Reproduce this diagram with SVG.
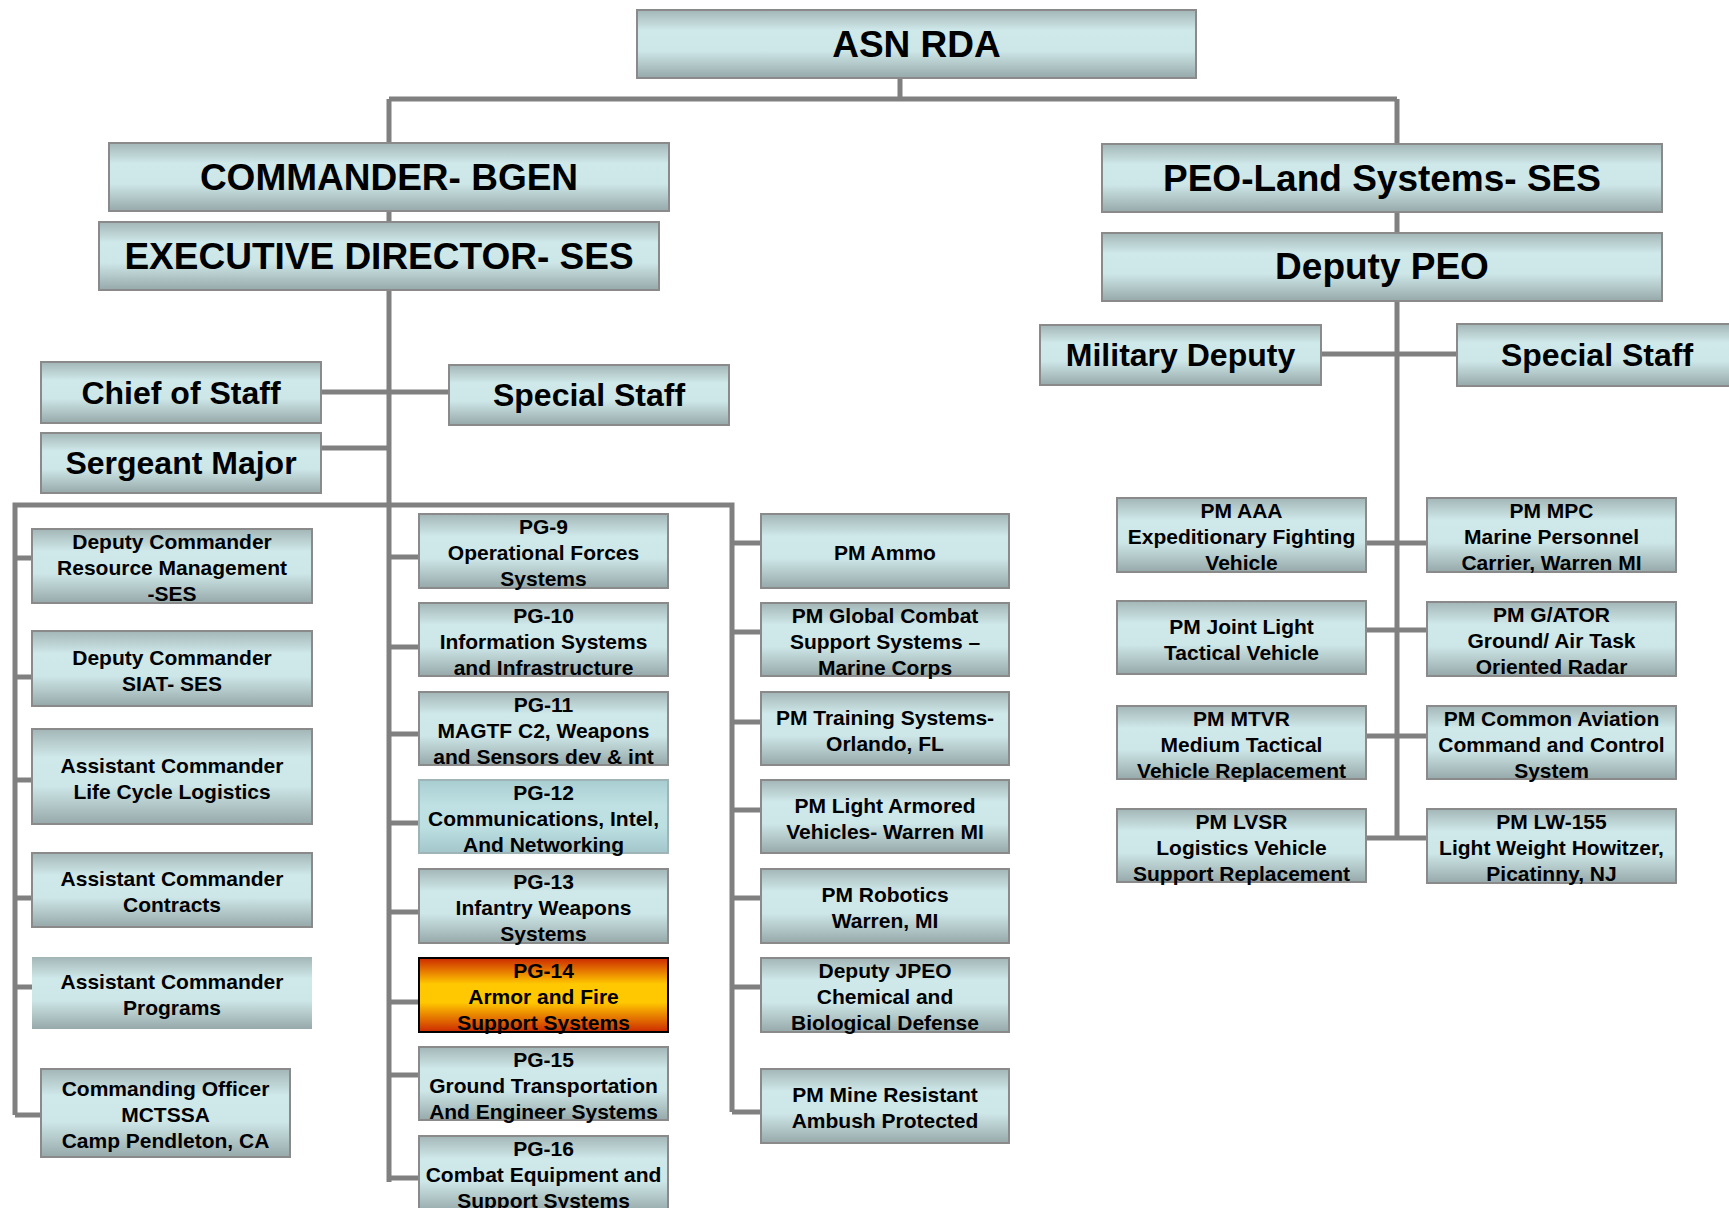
<svg xmlns="http://www.w3.org/2000/svg" width="1729" height="1208" viewBox="0 0 1729 1208">
<defs>
<linearGradient id="gBox" x1="0" y1="0" x2="0" y2="1">
<stop offset="0" stop-color="#a3b6b7"/>
<stop offset="0.3" stop-color="#cfe8e9"/>
<stop offset="0.6" stop-color="#cde6e7"/>
<stop offset="1" stop-color="#97a9aa"/>
</linearGradient>
<linearGradient id="gTeal" x1="0" y1="0" x2="0" y2="1">
<stop offset="0" stop-color="#a8cdd0"/>
<stop offset="0.35" stop-color="#bfe1e4"/>
<stop offset="0.65" stop-color="#bcdfe2"/>
<stop offset="1" stop-color="#a2c6ca"/>
</linearGradient>
<linearGradient id="gFire" x1="0" y1="0" x2="0" y2="1">
<stop offset="0" stop-color="#cc2a00"/>
<stop offset="0.35" stop-color="#ffc800"/>
<stop offset="0.6" stop-color="#ffc800"/>
<stop offset="1" stop-color="#cc2a00"/>
</linearGradient>
</defs>
<style>
.box{fill:url(#gBox);stroke:#8a8a8a;stroke-width:2}
.teal{fill:url(#gTeal);stroke:#9fb4b6;stroke-width:2}
.fire{fill:url(#gFire);stroke:#000;stroke-width:2}
.nob{fill:url(#gBox);stroke:none}
.con{fill:none;stroke:#808080;stroke-width:5;stroke-linecap:butt}
text{font-family:"Liberation Sans",Arial,sans-serif;font-weight:bold;fill:#000;text-anchor:middle}
.big{font-size:37px}
.mid{font-size:32px}
.sm{font-size:21px}
</style>
<rect width="1729" height="1208" fill="#fff"/>
<g id="connectors">
<path class="con" d="M900 78V99M389 99H1397M389 99V1182M1397 99V838"/>
<path class="con" d="M321 392H449M321 448H389M1321 354H1457"/>
<path class="con" d="M15 1115V505H732V1112"/>
<path class="con" d="M15 558H32M15 677H32M15 780H32M15 898H32M15 987H32M15 1115H41"/>
<path class="con" d="M389 557H419M389 647H419M389 734H419M389 823H419M389 912H419M389 1002H419M389 1075H423M389 1178H419"/>
<path class="con" d="M732 543H761M732 632H761M732 722H761M732 810H761M732 898H761M732 987H761M732 1112H761"/>
<path class="con" d="M1366 543H1427M1366 630H1427M1366 736H1427M1366 838H1427"/>
</g>
<g id="asn-rda"><rect class="box" x="637" y="10" width="559" height="68"/><text class="big" x="916.5" y="56.5">ASN RDA</text></g>
<g id="commander"><rect class="box" x="109" y="143" width="560" height="68"/><text class="big" x="389" y="189.5">COMMANDER- BGEN</text></g>
<g id="exec-director"><rect class="box" x="99" y="222" width="560" height="68"/><text class="big" x="379" y="268.5">EXECUTIVE DIRECTOR- SES</text></g>
<g id="chief-of-staff"><rect class="box" x="41" y="362" width="280" height="61"/><text class="mid" x="181" y="403.5">Chief of Staff</text></g>
<g id="special-staff-left"><rect class="box" x="449" y="365" width="280" height="60"/><text class="mid" x="589" y="406">Special Staff</text></g>
<g id="sergeant-major"><rect class="box" x="41" y="433" width="280" height="60"/><text class="mid" x="181" y="474">Sergeant Major</text></g>
<g id="peo-land"><rect class="box" x="1102" y="144" width="560" height="68"/><text class="big" x="1382" y="190.5">PEO-Land Systems- SES</text></g>
<g id="deputy-peo"><rect class="box" x="1102" y="233" width="560" height="68"/><text class="big" x="1382" y="279">Deputy PEO</text></g>
<g id="military-deputy"><rect class="box" x="1040" y="325" width="281" height="60"/><text class="mid" x="1180.5" y="366">Military Deputy</text></g>
<g id="special-staff-right"><rect class="box" x="1457" y="324" width="280" height="62"/><text class="mid" x="1597" y="366">Special Staff</text></g>

<g id="dc-rm"><rect class="box" x="32" y="529" width="280" height="74"/><text class="sm"><tspan x="172" y="549">Deputy Commander</tspan><tspan x="172" y="575">Resource Management</tspan><tspan x="172" y="601">-SES</tspan></text></g>
<g id="dc-siat"><rect class="box" x="32" y="631" width="280" height="75"/><text class="sm"><tspan x="172" y="664.5">Deputy Commander</tspan><tspan x="172" y="690.5">SIAT- SES</tspan></text></g>
<g id="ac-lcl"><rect class="box" x="32" y="729" width="280" height="95"/><text class="sm"><tspan x="172" y="772.5">Assistant Commander</tspan><tspan x="172" y="798.5">Life Cycle Logistics</tspan></text></g>
<g id="ac-contracts"><rect class="box" x="32" y="853" width="280" height="74"/><text class="sm"><tspan x="172" y="886">Assistant Commander</tspan><tspan x="172" y="912">Contracts</tspan></text></g>
<g id="ac-programs"><rect class="nob" x="32" y="957" width="280" height="72"/><text class="sm"><tspan x="172" y="989">Assistant Commander</tspan><tspan x="172" y="1015">Programs</tspan></text></g>
<g id="co-mctssa"><rect class="box" x="41" y="1069" width="249" height="88"/><text class="sm"><tspan x="165.5" y="1096">Commanding Officer</tspan><tspan x="165.5" y="1122">MCTSSA</tspan><tspan x="165.5" y="1148">Camp Pendleton, CA</tspan></text></g>

<g id="pg-9"><rect class="box" x="419" y="514" width="249" height="74"/><text class="sm"><tspan x="543.5" y="534">PG-9</tspan><tspan x="543.5" y="560">Operational Forces</tspan><tspan x="543.5" y="586">Systems</tspan></text></g>
<g id="pg-10"><rect class="box" x="419" y="603" width="249" height="73"/><text class="sm"><tspan x="543.5" y="622.5">PG-10</tspan><tspan x="543.5" y="648.5">Information Systems</tspan><tspan x="543.5" y="674.5">and Infrastructure</tspan></text></g>
<g id="pg-11"><rect class="box" x="419" y="692" width="249" height="73"/><text class="sm"><tspan x="543.5" y="711.5">PG-11</tspan><tspan x="543.5" y="737.5">MAGTF C2, Weapons</tspan><tspan x="543.5" y="763.5">and Sensors dev &amp; int</tspan></text></g>
<g id="pg-12"><rect class="teal" x="419" y="780" width="249" height="73"/><text class="sm"><tspan x="543.5" y="799.5">PG-12</tspan><tspan x="543.5" y="825.5">Communications, Intel,</tspan><tspan x="543.5" y="851.5">And Networking</tspan></text></g>
<g id="pg-13"><rect class="box" x="419" y="869" width="249" height="74"/><text class="sm"><tspan x="543.5" y="889">PG-13</tspan><tspan x="543.5" y="915">Infantry Weapons</tspan><tspan x="543.5" y="941">Systems</tspan></text></g>
<g id="pg-14"><rect class="fire" x="419" y="958" width="249" height="74"/><text class="sm"><tspan x="543.5" y="978">PG-14</tspan><tspan x="543.5" y="1004">Armor and Fire</tspan><tspan x="543.5" y="1030">Support Systems</tspan></text></g>
<g id="pg-15"><rect class="box" x="419" y="1047" width="249" height="73"/><text class="sm"><tspan x="543.5" y="1066.5">PG-15</tspan><tspan x="543.5" y="1092.5">Ground Transportation</tspan><tspan x="543.5" y="1118.5">And Engineer Systems</tspan></text></g>
<g id="pg-16"><rect class="box" x="419" y="1136" width="249" height="76"/><text class="sm"><tspan x="543.5" y="1156">PG-16</tspan><tspan x="543.5" y="1182">Combat Equipment and</tspan><tspan x="543.5" y="1208">Support Systems</tspan></text></g>

<g id="pm-ammo"><rect class="box" x="761" y="514" width="248" height="74"/><text class="sm" x="885" y="560">PM Ammo</text></g>
<g id="pm-gcss"><rect class="box" x="761" y="603" width="248" height="73"/><text class="sm"><tspan x="885" y="622.5">PM Global Combat</tspan><tspan x="885" y="648.5">Support Systems –</tspan><tspan x="885" y="674.5">Marine Corps</tspan></text></g>
<g id="pm-training"><rect class="box" x="761" y="692" width="248" height="73"/><text class="sm"><tspan x="885" y="724.5">PM Training Systems-</tspan><tspan x="885" y="750.5">Orlando, FL</tspan></text></g>
<g id="pm-lav"><rect class="box" x="761" y="780" width="248" height="73"/><text class="sm"><tspan x="885" y="812.5">PM Light Armored</tspan><tspan x="885" y="838.5">Vehicles- Warren MI</tspan></text></g>
<g id="pm-robotics"><rect class="box" x="761" y="869" width="248" height="74"/><text class="sm"><tspan x="885" y="902">PM Robotics</tspan><tspan x="885" y="928">Warren, MI</tspan></text></g>
<g id="deputy-jpeo"><rect class="box" x="761" y="958" width="248" height="74"/><text class="sm"><tspan x="885" y="978">Deputy JPEO</tspan><tspan x="885" y="1004">Chemical and</tspan><tspan x="885" y="1030">Biological Defense</tspan></text></g>
<g id="pm-mrap"><rect class="box" x="761" y="1069" width="248" height="74"/><text class="sm"><tspan x="885" y="1102">PM Mine Resistant</tspan><tspan x="885" y="1128">Ambush Protected</tspan></text></g>

<g id="pm-aaa"><rect class="box" x="1117" y="498" width="249" height="74"/><text class="sm"><tspan x="1241.5" y="518">PM AAA</tspan><tspan x="1241.5" y="544">Expeditionary Fighting</tspan><tspan x="1241.5" y="570">Vehicle</tspan></text></g>
<g id="pm-jltv"><rect class="box" x="1117" y="601" width="249" height="73"/><text class="sm"><tspan x="1241.5" y="633.5">PM Joint Light</tspan><tspan x="1241.5" y="659.5">Tactical Vehicle</tspan></text></g>
<g id="pm-mtvr"><rect class="box" x="1117" y="706" width="249" height="73"/><text class="sm"><tspan x="1241.5" y="725.5">PM MTVR</tspan><tspan x="1241.5" y="751.5">Medium Tactical</tspan><tspan x="1241.5" y="777.5">Vehicle Replacement</tspan></text></g>
<g id="pm-lvsr"><rect class="box" x="1117" y="809" width="249" height="73"/><text class="sm"><tspan x="1241.5" y="828.5">PM LVSR</tspan><tspan x="1241.5" y="854.5">Logistics Vehicle</tspan><tspan x="1241.5" y="880.5">Support Replacement</tspan></text></g>

<g id="pm-mpc"><rect class="box" x="1427" y="498" width="249" height="74"/><text class="sm"><tspan x="1551.5" y="518">PM MPC</tspan><tspan x="1551.5" y="544">Marine Personnel</tspan><tspan x="1551.5" y="570">Carrier, Warren MI</tspan></text></g>
<g id="pm-gator"><rect class="box" x="1427" y="602" width="249" height="74"/><text class="sm"><tspan x="1551.5" y="622">PM G/ATOR</tspan><tspan x="1551.5" y="648">Ground/ Air Task</tspan><tspan x="1551.5" y="674">Oriented Radar</tspan></text></g>
<g id="pm-cac2s"><rect class="box" x="1427" y="706" width="249" height="73"/><text class="sm"><tspan x="1551.5" y="725.5">PM Common Aviation</tspan><tspan x="1551.5" y="751.5">Command and Control</tspan><tspan x="1551.5" y="777.5">System</tspan></text></g>
<g id="pm-lw155"><rect class="box" x="1427" y="809" width="249" height="74"/><text class="sm"><tspan x="1551.5" y="829">PM LW-155</tspan><tspan x="1551.5" y="855">Light Weight Howitzer,</tspan><tspan x="1551.5" y="881">Picatinny, NJ</tspan></text></g>
</svg>
